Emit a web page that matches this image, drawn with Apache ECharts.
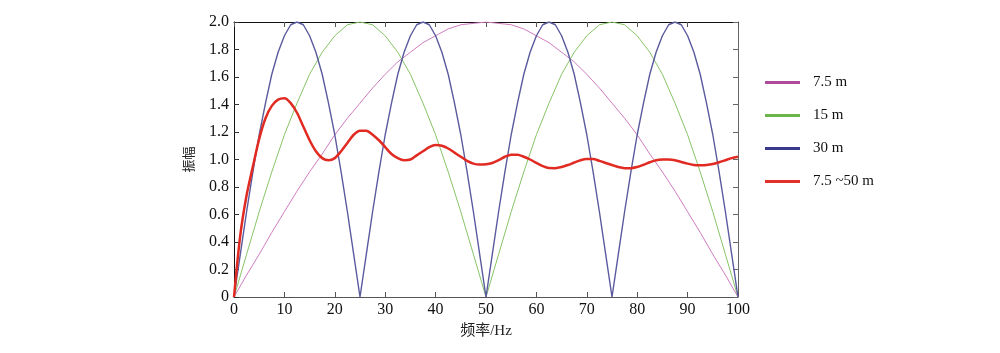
<!DOCTYPE html>
<html>
<head>
<meta charset="utf-8">
<script src="https://cdn.jsdelivr.net/npm/echarts@6/dist/echarts.min.js"></script>
<style>
html,body{margin:0;padding:0;background:#fff;}
#main{width:1000px;height:353px;}
</style>
</head>
<body>
<div id="main"></div>
<script>
// 频率 (Hz), 2.5 Hz 间隔
var freq = [0, 2.5, 5, 7.5, 10, 12.5, 15, 17.5, 20, 22.5, 25, 27.5, 30, 32.5, 35, 37.5, 40, 42.5, 45, 47.5,
    50, 52.5, 55, 57.5, 60, 62.5, 65, 67.5, 70, 72.5, 75, 77.5, 80, 82.5, 85, 87.5, 90, 92.5, 95, 97.5, 100];
// 频率 (Hz), 1.25 Hz 间隔
var freqFine = [0, 1.25, 2.5, 3.75, 5, 6.25, 7.5, 8.75, 10, 11.25, 12.5, 13.75, 15, 16.25, 17.5, 18.75, 20, 21.25, 22.5, 23.75,
    25, 26.25, 27.5, 28.75, 30, 31.25, 32.5, 33.75, 35, 36.25, 37.5, 38.75, 40, 41.25, 42.5, 43.75, 45, 46.25, 47.5, 48.75,
    50, 51.25, 52.5, 53.75, 55, 56.25, 57.5, 58.75, 60, 61.25, 62.5, 63.75, 65, 66.25, 67.5, 68.75, 70, 71.25, 72.5, 73.75,
    75, 76.25, 77.5, 78.75, 80, 81.25, 82.5, 83.75, 85, 86.25, 87.5, 88.75, 90, 91.25, 92.5, 93.75, 95, 96.25, 97.5, 98.75, 100];

// 7.5 m
var amp75 = [0, 0.16, 0.31, 0.47, 0.62, 0.77, 0.91, 1.04, 1.18, 1.30, 1.41, 1.52, 1.62, 1.71, 1.78, 1.85, 1.90, 1.95, 1.98, 1.99,
    2.00, 1.99, 1.98, 1.95, 1.90, 1.85, 1.78, 1.71, 1.62, 1.52, 1.41, 1.30, 1.18, 1.04, 0.91, 0.77, 0.62, 0.47, 0.31, 0.16, 0];
// 15 m
var amp15 = [0, 0.31, 0.62, 0.91, 1.18, 1.41, 1.62, 1.78, 1.90, 1.98, 2.00, 1.98, 1.90, 1.78, 1.62, 1.41, 1.18, 0.91, 0.62, 0.31,
    0, 0.31, 0.62, 0.91, 1.18, 1.41, 1.62, 1.78, 1.90, 1.98, 2.00, 1.98, 1.90, 1.78, 1.62, 1.41, 1.18, 0.91, 0.62, 0.31, 0];
// 30 m (freqFine)
var amp30 = [0, 0.31, 0.62, 0.91, 1.18, 1.41, 1.62, 1.78, 1.90, 1.98, 2.00, 1.98, 1.90, 1.78, 1.62, 1.41, 1.18, 0.91, 0.62, 0.31,
    0, 0.31, 0.62, 0.91, 1.18, 1.41, 1.62, 1.78, 1.90, 1.98, 2.00, 1.98, 1.90, 1.78, 1.62, 1.41, 1.18, 0.91, 0.62, 0.31,
    0, 0.31, 0.62, 0.91, 1.18, 1.41, 1.62, 1.78, 1.90, 1.98, 2.00, 1.98, 1.90, 1.78, 1.62, 1.41, 1.18, 0.91, 0.62, 0.31,
    0, 0.31, 0.62, 0.91, 1.18, 1.41, 1.62, 1.78, 1.90, 1.98, 2.00, 1.98, 1.90, 1.78, 1.62, 1.41, 1.18, 0.91, 0.62, 0.31, 0];
// 7.5 ~50 m (freqFine)
var ampMix = [0, 0.45, 0.74, 0.95, 1.15, 1.30, 1.39, 1.435, 1.445, 1.41, 1.34, 1.24, 1.14, 1.06, 1.01, 0.995, 1.01, 1.06, 1.12, 1.18,
    1.21, 1.21, 1.18, 1.14, 1.09, 1.04, 1.01, 0.995, 1.00, 1.03, 1.06, 1.09, 1.105, 1.10, 1.08, 1.05, 1.02, 0.99, 0.97, 0.963,
    0.965, 0.975, 0.995, 1.02, 1.035, 1.035, 1.02, 1.00, 0.975, 0.952, 0.938, 0.937, 0.945, 0.96, 0.978, 0.995, 1.003, 1.003, 0.99, 0.975,
    0.96, 0.945, 0.937, 0.937, 0.946, 0.962, 0.98, 0.995, 1.00, 1.00, 0.995, 0.982, 0.97, 0.96, 0.958, 0.96, 0.967, 0.98, 0.995, 1.01, 1.02];

var names = ['7.5 m', '15 m', '30 m', '7.5 ~50 m'];

function pairs(xs, ys) {
    var out = [];
    for (var i = 0; i < xs.length; i++) {
        out.push([xs[i], ys[i]]);
    }
    return out;
}

var serif = 'Liberation Serif, Times New Roman, Noto Sans CJK SC, serif';

var myChart = echarts.init(document.getElementById('main'));
var option = {
    animation: false,
    backgroundColor: '#fff',
    textStyle: {fontFamily: serif},
    grid: {
        left: 234,
        right: 262,
        top: 22,
        bottom: 56
    },
    legend: {
        orient: 'vertical',
        left: 760,
        top: 70,
        itemWidth: 35,
        itemHeight: 3,
        itemGap: 18,
        icon: 'rect',
        textStyle: {fontFamily: serif, fontSize: 15, color: '#111', padding: [0, 0, 0, 8]},
        data: names
    },
    xAxis: [
        {
            type: 'value',
            position: 'bottom',
            min: 0,
            max: 100,
            interval: 10,
            name: '频率/Hz',
            nameLocation: 'middle',
            nameGap: 27,
            nameTextStyle: {fontFamily: serif, fontSize: 15, color: '#222'},
            axisLine: {onZero: false, lineStyle: {color: '#555', width: 1}},
            axisTick: {inside: true, length: 5, lineStyle: {color: '#555'}},
            axisLabel: {fontFamily: serif, fontSize: 16, color: '#111', margin: 5},
            splitLine: {show: false}
        },
        {
            type: 'value',
            position: 'top',
            min: 0,
            max: 100,
            interval: 10,
            axisLine: {onZero: false, lineStyle: {color: '#111', width: 1}},
            axisTick: {inside: true, length: 5, lineStyle: {color: '#555'}},
            axisLabel: {show: false},
            splitLine: {show: false}
        }
    ],
    yAxis: [
        {
            type: 'value',
            position: 'left',
            min: 0,
            max: 2,
            interval: 0.2,
            name: '振幅',
            nameLocation: 'middle',
            nameGap: 38,
            nameRotate: 90,
            nameTextStyle: {fontFamily: serif, fontSize: 13, color: '#222'},
            axisLine: {onZero: false, lineStyle: {color: '#111', width: 1}},
            axisTick: {inside: true, length: 5, lineStyle: {color: '#333'}},
            axisLabel: {
                fontFamily: serif, fontSize: 16, color: '#111', margin: 5,
                formatter: function (v) {
                    return v === 0 ? '0' : v.toFixed(1);
                }
            },
            splitLine: {show: false}
        },
        {
            type: 'value',
            position: 'right',
            min: 0,
            max: 2,
            interval: 0.2,
            axisLine: {onZero: false, lineStyle: {color: '#666', width: 1}},
            axisTick: {inside: true, length: 5, lineStyle: {color: '#666'}},
            axisLabel: {show: false},
            splitLine: {show: false}
        }
    ],
    series: [
        {
            name: names[0],
            type: 'line',
            showSymbol: false,
            color: '#b24a9c',
            lineStyle: {width: 1, color: '#cf7cc0'},
            data: pairs(freq, amp75)
        },
        {
            name: names[1],
            type: 'line',
            showSymbol: false,
            color: '#6db44a',
            lineStyle: {width: 1, color: '#86c466'},
            data: pairs(freq, amp15)
        },
        {
            name: names[2],
            type: 'line',
            showSymbol: false,
            color: '#3a3a8c',
            lineStyle: {width: 1.4, color: '#5a5a9e'},
            data: pairs(freqFine, amp30)
        },
        {
            name: names[3],
            type: 'line',
            showSymbol: false,
            smooth: 0.3,
            color: '#e2302a',
            lineStyle: {width: 2.5, color: '#e02a22'},
            data: pairs(freqFine, ampMix)
        }
    ]
};
myChart.setOption(option);
</script>
</body>
</html>
